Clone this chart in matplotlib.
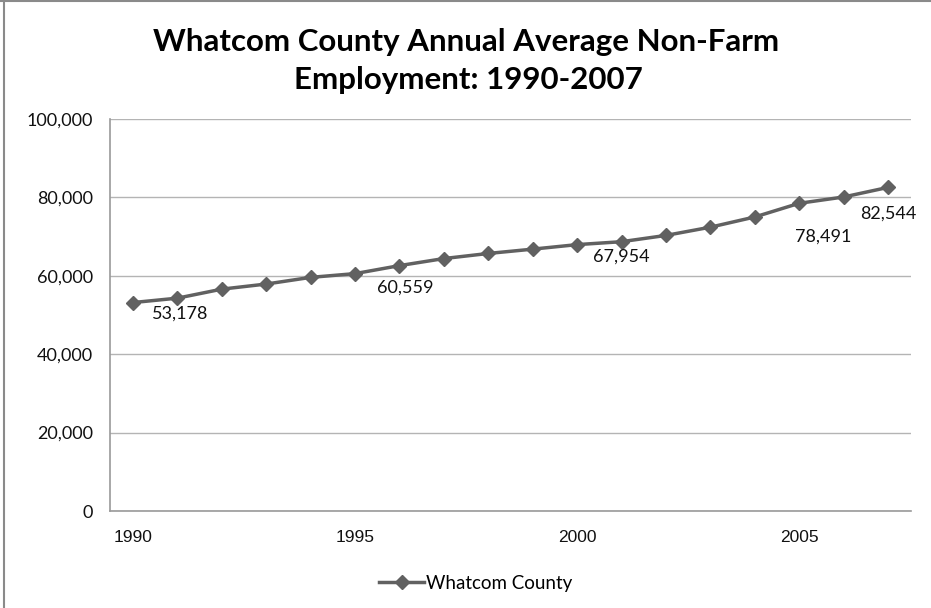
import matplotlib
matplotlib.use("Agg")
import matplotlib.pyplot as plt
from matplotlib.lines import Line2D
from matplotlib.ticker import FuncFormatter

years = list(range(1990, 2008))
employment = [53178, 54300, 56600, 57900, 59600, 60559, 62600, 64400, 65700,
              66800, 67954, 68700, 70300, 72400, 75000, 78491, 80100, 82544]
labeled = [1990, 1995, 2000, 2005, 2007]
# label offsets in points (relative to the marker)
label_offsets = [(34, -8), (36, -10), (32, -9), (17, -24), (0, -19)]

plt.rcParams['font.family'] = ['Lato', 'DejaVu Sans']

fig = plt.figure(figsize=(9.31, 6.08), dpi=100)
ax = fig.add_axes([110/931, 1 - 511/608, 801/931, 392/608])

line_col = '#616161'
grid_col = '#b4b4b4'

ax.plot(years, employment, color=line_col, lw=2.5, marker='D', ms=7,
        label='Whatcom County', zorder=3)

for yr, off in zip(labeled, label_offsets):
    val = employment[years.index(yr)]
    ax.annotate(f"{val:,}", (yr, val), xytext=off, textcoords='offset points',
                ha='center', va='center', fontsize=13, color='#111111')

ax.set_xlim(1989.48, 2007.52)
ax.set_ylim(0, 100000)
ax.set_xticks([1990, 1995, 2000, 2005])
ax.set_yticks(range(0, 100001, 20000))
ax.yaxis.set_major_formatter(FuncFormatter(lambda v, p: f"{int(v):,}"))
ax.tick_params(length=0, labelsize=13, colors='#111111')
ax.tick_params(axis='x', pad=14)
ax.tick_params(axis='y', pad=12)
for lab in ax.get_xticklabels():
    lab.set_fontfamily('Liberation Sans')
    lab.set_fontsize(12.5)

ax.grid(axis='y', color=grid_col, lw=1)
ax.set_axisbelow(True)
for s in ['top', 'right']:
    ax.spines[s].set_visible(False)
for s in ['left', 'bottom']:
    ax.spines[s].set_color('#9a9a9a')
    ax.spines[s].set_linewidth(1.2)

fig.text(466/931, 1 - 42/608, "Whatcom County Annual Average Non-Farm",
         ha='center', va='center', fontsize=22.5, fontweight='bold')
fig.text(468/931, 1 - 80/608, "Employment: 1990-2007",
         ha='center', va='center', fontsize=22.5, fontweight='bold')

fig.legend(loc='center', bbox_to_anchor=(476/931, 1 - 583/608), frameon=False,
           fontsize=13.5, handlelength=2.4, handletextpad=0.1)

# outer chart border (left and top edges visible)
fig.add_artist(Line2D([4/931, 4/931], [0, 1], transform=fig.transFigure,
                      color='#8a8a8a', lw=1.5))
fig.add_artist(Line2D([0, 1], [1 - 1/608, 1 - 1/608], transform=fig.transFigure,
                      color='#8a8a8a', lw=1.5))

fig.savefig('out.png', dpi=100, facecolor='white')
